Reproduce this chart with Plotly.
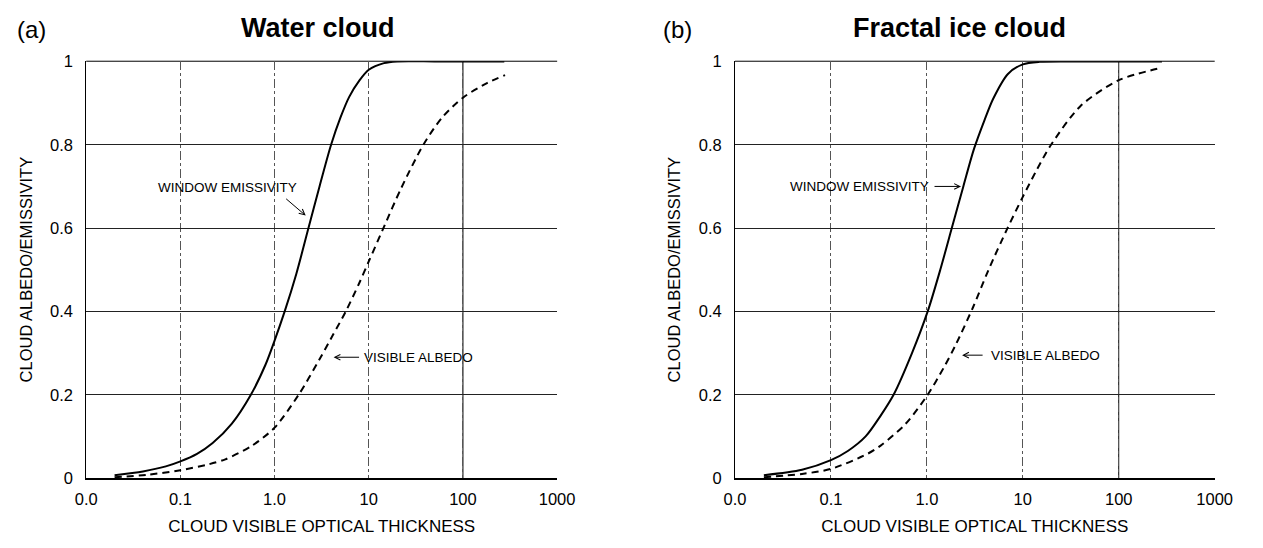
import numpy as np
import plotly.graph_objects as go

# ---------------- data ----------------
tau_water_emis = [0.02, 0.04, 0.07, 0.1, 0.15, 0.22, 0.35, 0.56, 0.8, 1.0, 1.28, 1.7, 2.29, 3.0, 3.98, 5.0, 6.2, 8.0, 10, 14.5, 20, 50, 100, 275]
water_emis = [0.007, 0.016, 0.028, 0.04, 0.058, 0.084, 0.13, 0.2, 0.272, 0.33, 0.4, 0.49, 0.6, 0.7, 0.8, 0.865, 0.915, 0.955, 0.98, 0.996, 1.0, 1.0, 1.0, 1.0]

tau_water_alb = [0.02, 0.045, 0.1, 0.2, 0.3, 0.57, 1.0, 1.8, 3.0, 4.2, 5.7, 8.0, 10, 14, 22, 38, 60, 100, 180, 280]
water_alb = [0.002, 0.008, 0.019, 0.033, 0.045, 0.077, 0.121, 0.2, 0.285, 0.345, 0.4, 0.47, 0.52, 0.595, 0.695, 0.8, 0.865, 0.913, 0.948, 0.967]

tau_ice_emis = [0.02, 0.05, 0.1, 0.15, 0.23, 0.33, 0.45, 0.7, 1.02, 1.38, 1.82, 2.4, 3.1, 4.0, 4.9, 7.0, 10, 15, 30, 100, 282]
ice_emis = [0.007, 0.02, 0.043, 0.065, 0.1, 0.15, 0.2, 0.3, 0.4, 0.5, 0.6, 0.7, 0.79, 0.86, 0.91, 0.97, 0.993, 0.999, 1.0, 1.0, 1.0]

tau_ice_alb = [0.02, 0.05, 0.1, 0.24, 0.33, 0.6, 1.02, 1.5, 2.0, 3.03, 4.4, 6.93, 10, 14, 19.7, 40, 100, 282]
ice_alb = [0.002, 0.01, 0.022, 0.058, 0.078, 0.13, 0.2, 0.265, 0.32, 0.41, 0.5, 0.6, 0.675, 0.74, 0.8, 0.893, 0.955, 0.985]

x_tickvals = [0.01, 0.1, 1, 10, 100, 1000]
x_ticktext = ["0.0", "0.1", "1.0", "10", "100", "1000"]
y_tickvals = [0, 0.2, 0.4, 0.6, 0.8, 1]
y_ticktext = ["0", "0.2", "0.4", "0.6", "0.8", "1"]
solid_vgrid = [100]

panel_titles = ["Water cloud", "Fractal ice cloud"]
panel_labels = ["(a)", "(b)"]
x_title = "CLOUD VISIBLE OPTICAL THICKNESS"
y_title = "CLOUD ALBEDO/EMISSIVITY"

emis_text = "WINDOW EMISSIVITY"
alb_text = "VISIBLE ALBEDO"
# label anchor positions (data units)
emis_label_pos = [(0.315, 0.698), (1.11, 0.70)]
emis_arrow_tip = [(2.14, 0.63), (2.27, 0.70)]
alb_arrow_tip = [(4.23, 0.29), (2.33, 0.295)]
alb_label_x = [8.4, 4.4]

# ---------------- styling ----------------
FONT = "Liberation Sans, Arial, Helvetica, sans-serif"
W, H = 1263, 548
x_domains = [[77 / W, 559 / W], [741 / W, 1232 / W]]
y_domain = [63 / H, 494 / H]
title_centers = [314.5 / W, 971 / W]
label_centers = [20.5 / W, 682 / W]

fig = go.Figure()

series = [
    (tau_water_emis, water_emis, tau_water_alb, water_alb),
    (tau_ice_emis, ice_emis, tau_ice_alb, ice_alb),
]

for i, (te, ve, ta, va) in enumerate(series):
    xa = "x" if i == 0 else "x2"
    ya = "y" if i == 0 else "y2"
    fig.add_trace(go.Scatter(x=te, y=ve, xaxis=xa, yaxis=ya, mode="lines",
                             line=dict(color="black", width=2, shape="spline", smoothing=0.8),
                             name=emis_text, showlegend=False))
    fig.add_trace(go.Scatter(x=ta, y=va, xaxis=xa, yaxis=ya, mode="lines",
                             line=dict(color="black", width=2, dash="7px,5px", shape="spline", smoothing=0.8),
                             name=alb_text, showlegend=False))

axis_common_x = dict(
    type="log", range=[-2, 3.0005], tickmode="array", tickvals=x_tickvals, ticktext=x_ticktext,
    showgrid=True, gridcolor="#555", griddash="dashdot", gridwidth=1,
    showline=True, linecolor="black", linewidth=1.5, mirror=False,
    ticks="", ticklabelstandoff=5, zeroline=False,
    tickfont=dict(family=FONT, size=16.5, color="black"),
    title=dict(text=x_title, font=dict(family=FONT, size=17, color="black"), standoff=13),
)
axis_common_y = dict(
    range=[0, 1.0005], tickmode="array", tickvals=y_tickvals, ticktext=y_ticktext,
    showgrid=True, gridcolor="#222", gridwidth=1,
    showline=True, linecolor="black", linewidth=1, mirror=False,
    ticks="", ticklabelstandoff=9, zeroline=False,
    tickfont=dict(family=FONT, size=16.5, color="black"),
    title=dict(text=y_title, font=dict(family=FONT, size=16.5, color="black"), standoff=13),
)

fig.update_layout(
    xaxis=dict(domain=x_domains[0], anchor="y", **axis_common_x),
    yaxis=dict(domain=y_domain, anchor="x", **axis_common_y),
    xaxis2=dict(domain=x_domains[1], anchor="y2", **axis_common_x),
    yaxis2=dict(domain=y_domain, anchor="x2", **axis_common_y),
    width=W, height=H, autosize=False,
    margin=dict(l=0, r=0, t=0, b=0),
    paper_bgcolor="white", plot_bgcolor="white",
    font=dict(family=FONT, color="black"),
    showlegend=False,
)

shapes = []
annotations = []
for i in range(2):
    xa = "x" if i == 0 else "x2"
    ya = "y" if i == 0 else "y2"
    for v in solid_vgrid:
        shapes.append(dict(type="line", xref=xa, yref=ya + " domain", x0=v, x1=v,
                           y0=0, y1=1, line=dict(color="black", width=1), layer="below"))
    # top frame line
    shapes.append(dict(type="line", xref=xa + " domain", yref=ya + " domain", x0=0, x1=1, y0=1, y1=1,
                       line=dict(color="black", width=1), layer="below"))
    # panel titles
    annotations.append(dict(text="<b>%s</b>" % panel_titles[i], xref="paper", yref="paper",
                            x=title_centers[i], y=1 - 20 / H, xanchor="center", yanchor="middle",
                            showarrow=False, font=dict(family=FONT, size=27, color="black")))
    annotations.append(dict(text=panel_labels[i], xref="paper", yref="paper",
                            x=label_centers[i], y=1 - 21 / H, xanchor="center", yanchor="middle",
                            showarrow=False, font=dict(family=FONT, size=24, color="black")))
    # emissivity label + arrow
    ex, ey = emis_label_pos[i]
    tipx, tipy = emis_arrow_tip[i]
    annotations.append(dict(text=emis_text, xref=xa, yref=ya, x=np.log10(ex), y=ey,
                            xanchor="center" if i == 0 else "right", yanchor="middle", showarrow=False,
                            font=dict(family=FONT, size=13.5, color="black")))
    if i == 0:
        axp, ayp = -21, -18
    else:
        axp, ayp = -28, 0
    annotations.append(dict(text="", xref=xa, yref=ya, x=np.log10(tipx), y=tipy, ax=axp, ay=ayp,
                            showarrow=True, arrowhead=5, arrowsize=1.1, arrowwidth=1, arrowcolor="black"))
    # albedo label + arrow
    ax_t, ay_t = alb_arrow_tip[i]
    annotations.append(dict(text="", xref=xa, yref=ya, x=np.log10(ax_t), y=ay_t,
                            ax=27 if i == 0 else 22, ay=0,
                            showarrow=True, arrowhead=5, arrowsize=1.1, arrowwidth=1, arrowcolor="black"))
    annotations.append(dict(text=alb_text, xref=xa, yref=ya, x=np.log10(alb_label_x[i]), y=ay_t,
                            xanchor="left", yanchor="middle", showarrow=False,
                            font=dict(family=FONT, size=13.5, color="black")))

fig.update_layout(shapes=shapes, annotations=annotations)
fig.write_html("out.html")
